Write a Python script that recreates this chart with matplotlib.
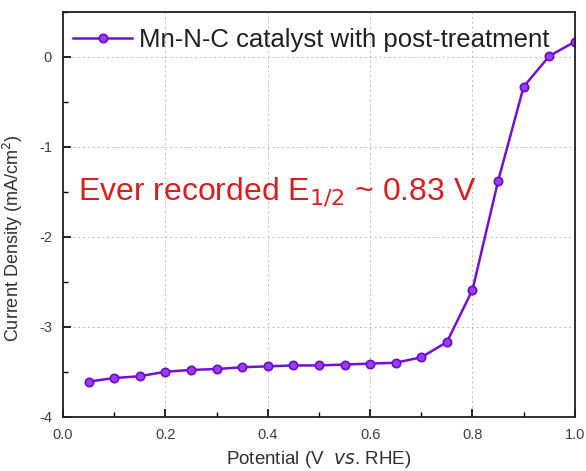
import matplotlib.pyplot as plt
from matplotlib.ticker import MultipleLocator

plt.rcParams['font.family'] = ['Liberation Sans', 'DejaVu Sans']
plt.rcParams['axes.unicode_minus'] = False

# 电位 (V vs. RHE) 与电流密度 (mA/cm2)
potential = [0.05, 0.10, 0.15, 0.20, 0.25, 0.30, 0.35, 0.40, 0.45, 0.50,
             0.55, 0.60, 0.65, 0.70, 0.75, 0.80, 0.85, 0.90, 0.95, 1.00]
current = [-3.61, -3.57, -3.55, -3.50, -3.48, -3.47, -3.45, -3.44, -3.43, -3.43,
           -3.42, -3.41, -3.40, -3.34, -3.17, -2.59, -1.38, -0.33, 0.01, 0.17]
series_label = 'Mn-N-C catalyst with post-treatment'
note = r'Ever recorded E$_{1/2}$ ~ 0.83 V'

fig = plt.figure(figsize=(5.86, 4.71), dpi=100)
ax = fig.add_axes([0.1075, 0.1153, 0.8735, 0.8592])

ax.plot(potential, current, color='#7010d8', lw=1.8, marker='o', ms=6,
        mfc='#9a3cf0', mec='#6a0cc8', mew=1.2, label=series_label)

ax.set_xlim(0, 1.0)
ax.set_ylim(-4, 0.5)
ax.xaxis.set_major_locator(MultipleLocator(0.2))
ax.xaxis.set_minor_locator(MultipleLocator(0.1))
ax.yaxis.set_major_locator(MultipleLocator(1))
ax.yaxis.set_minor_locator(MultipleLocator(0.5))
ax.set_yticks([0, -1, -2, -3, -4])

ax.tick_params(which='major', direction='in', length=6, width=1.2,
               labelsize=10.5, labelcolor='#404040', pad=8)
ax.tick_params(which='minor', direction='in', length=3.5, width=1)
ax.tick_params(axis='x', top=False)
ax.tick_params(axis='y', right=False)
ax.xaxis.set_major_formatter(plt.FuncFormatter(lambda v, p: f'{v:.1f}'))

ax.grid(True, which='major', ls=(0, (2, 3)), color='#bbbbbb', lw=0.7)
for s in ax.spines.values():
    s.set_linewidth(1.3)
    s.set_color('#202020')

ax.set_xlabel(r'Potential (V  $\it{vs}$. RHE)', fontsize=13.5, color='#303030', labelpad=5)
ax.set_ylabel('Current Density (mA/cm$^2$)', fontsize=13, color='#303030', labelpad=8)
ax.yaxis.set_label_coords(-0.075, 0.44)

ax.text(0.03, 0.555, note, transform=ax.transAxes, fontsize=23, color='#d81e1e',
        va='center', ha='left')

leg = ax.legend(loc='upper left', bbox_to_anchor=(0, 0.985), frameon=False,
                fontsize=18.5, handlelength=2.3, borderaxespad=0.1,
                handletextpad=0.25, borderpad=0.3)
for t in leg.get_texts():
    t.set_color('#202020')

fig.savefig('out.png', dpi=100)
